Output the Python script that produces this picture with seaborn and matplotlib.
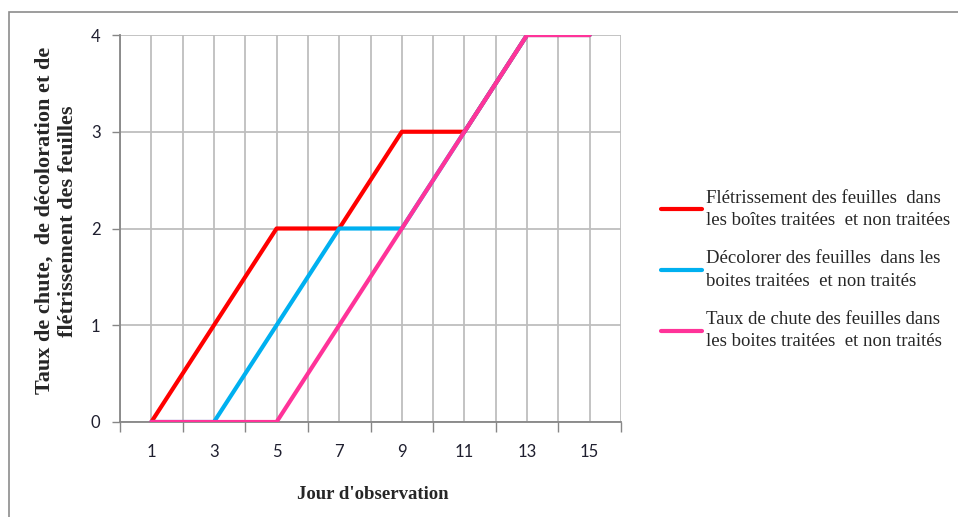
import matplotlib
matplotlib.use("Agg")
import matplotlib.pyplot as plt
import seaborn as sns
import pandas as pd
from matplotlib.patches import Rectangle
from matplotlib.lines import Line2D

days = [1, 3, 5, 7, 9, 11, 13, 15]
fletrissement = [0, 1, 2, 2, 3, 3, 4, 4]
decoloration = [0, 0, 1, 2, 2, 3, 4, 4]
chute = [0, 0, 0, 1, 2, 3, 4, 4]

series_names = [
    "Flétrissement des feuilles  dans\nles boîtes traitées  et non traitées",
    "Décolorer des feuilles  dans les\nboites traitées  et non traités",
    "Taux de chute des feuilles dans\nles boites traitées  et non traités",
]
series_values = [fletrissement, decoloration, chute]
colors = ["#FF0000", "#00B0F0", "#FF3399"]

x_tick_labels = ["1", "3", "5", "7", "9", "11", "13", "15"]
y_ticks = [0, 1, 2, 3, 4]

rows = []
for name, vals in zip(series_names, series_values):
    for d, v in zip(days, vals):
        rows.append({"jour": d, "valeur": v, "serie": name})
df = pd.DataFrame(rows)

sns.set_theme(style="white")
plt.rcParams["font.family"] = ["Liberation Serif", "DejaVu Serif"]

fig = plt.figure(figsize=(9.58, 5.17), dpi=100)
ax = fig.add_axes([120 / 958, 1 - 422 / 517, (621 - 120) / 958, (422 - 35) / 517])

sns.lineplot(data=df, x="jour", y="valeur", hue="serie", hue_order=series_names,
             palette=colors, linewidth=3.0, ax=ax, legend=False, zorder=3)

ax.set_xlim(0, 16)
ax.set_ylim(0, 4)

# major x ticks (marks only) at even positions, labels at odd positions
ax.set_xticks(range(0, 17, 2))
ax.set_xticklabels([""] * 9)
ax.set_xticks(days, minor=True)
ax.set_xticklabels(x_tick_labels, minor=True)
ax.set_yticks(y_ticks)
ax.set_yticklabels([str(v) for v in y_ticks])

ax.tick_params(axis="x", which="major", length=7, width=1, color="#868686", direction="out", bottom=True)
ax.tick_params(axis="x", which="minor", length=0, pad=16, labelsize=12, labelcolor="#1F1F2F", bottom=True)
ax.tick_params(axis="y", which="major", length=6, width=1, color="#868686", direction="out", left=True,
               labelsize=12, labelcolor="#1F1F2F", pad=8)
for lab in ax.get_xticklabels(minor=True) + ax.get_yticklabels():
    lab.set_fontfamily(["Lato", "DejaVu Sans"])

# gridlines at every integer
for xv in range(0, 17):
    ax.axvline(xv, color="#BEBEBE", linewidth=1.3, zorder=1)
for yv in y_ticks:
    ax.axhline(yv, color="#BEBEBE", linewidth=1.3, zorder=1)

for s in ["top", "right"]:
    ax.spines[s].set_visible(False)
for s in ["left", "bottom"]:
    ax.spines[s].set_color("#868686")
    ax.spines[s].set_linewidth(1.3)
    ax.spines[s].set_zorder(2)

ax.set_xlabel("Jour d'observation", fontsize=13.5, fontweight="bold")
ax.xaxis.set_label_coords((373 - 120) / (621 - 120), -(486 - 422) / (422 - 35))
ax.set_ylabel("Taux de chute,  de décoloration et de\nflétrissement des feuilles",
              fontsize=16, fontweight="bold", linespacing=1.25, multialignment="center")
ax.yaxis.set_label_coords(-(120 - 56) / (621 - 120), 0.52)
ax.yaxis.label.set_verticalalignment("center")

handles = [Line2D([], [], color=c, linewidth=3.0) for c in colors]
leg = fig.legend(handles, series_names, loc="center left", bbox_to_anchor=(646 / 958, 1 - 270 / 517),
                 frameon=False, fontsize=13.5, handlelength=2.2, handletextpad=0.2,
                 labelspacing=1.15, borderpad=0.3)
for t in leg.get_texts():
    t.set_linespacing(1.4)

# outer chart border
fig.add_artist(Rectangle((9 / 958, -0.05), 1.1, 1 - 12 / 517 + 0.05, transform=fig.transFigure,
                         fill=False, edgecolor="#8C8C8C", linewidth=1.2))

fig.savefig("out.png", dpi=100)
